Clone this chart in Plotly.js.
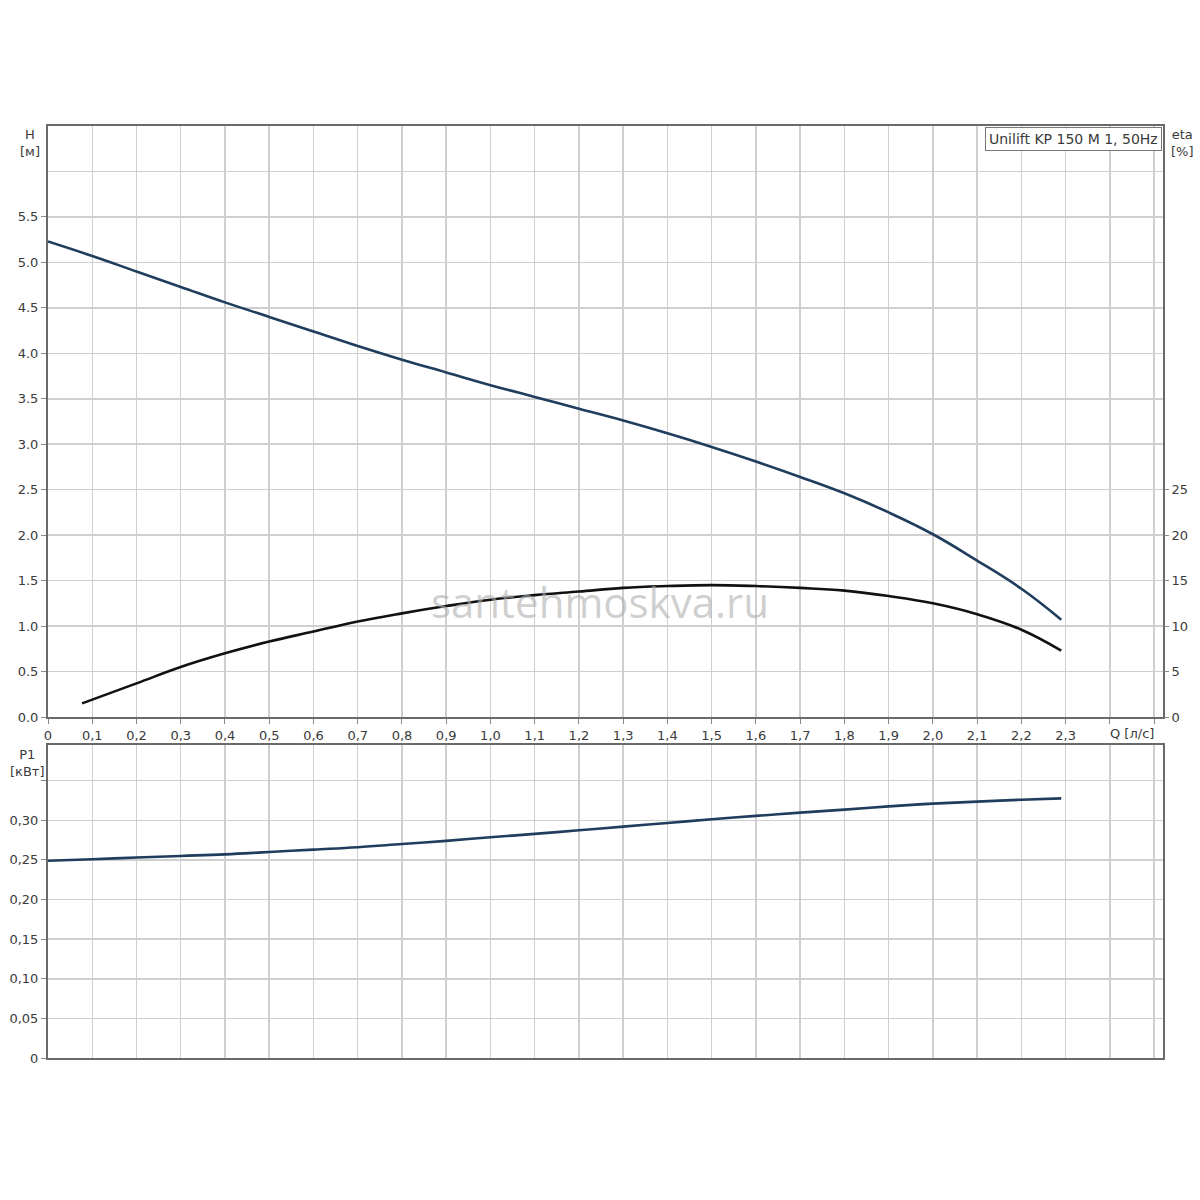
<!DOCTYPE html>
<html>
<head>
<meta charset="utf-8">
<script src="https://cdn.plot.ly/plotly-3.0.1.min.js"></script>
<style>html,body{margin:0;padding:0;background:#fff;}#chart{width:1200px;height:1200px;}</style>
</head>
<body>
<div id="chart"></div>
<script>
// Flow Q [л/с]
var qH = [0,0.1,0.2,0.3,0.4,0.5,0.6,0.7,0.8,0.9,1.0,1.1,1.2,1.3,1.4,1.5,1.6,1.7,1.8,1.9,2.0,2.1,2.2,2.29];
var headH = [5.23,5.07,4.90,4.73,4.56,4.40,4.24,4.08,3.93,3.79,3.65,3.52,3.39,3.26,3.12,2.97,2.81,2.64,2.46,2.25,2.01,1.72,1.41,1.07];
var qEta = [0.077,0.2,0.3,0.4,0.5,0.6,0.7,0.8,0.9,1.0,1.1,1.2,1.3,1.4,1.5,1.6,1.7,1.8,1.9,2.0,2.1,2.2,2.29];
var etaVals = [1.5,3.7,5.5,7.0,8.3,9.4,10.5,11.4,12.2,12.9,13.4,13.8,14.2,14.4,14.5,14.4,14.2,13.9,13.3,12.5,11.3,9.6,7.3];
var qP = [0,0.1,0.2,0.3,0.4,0.5,0.6,0.7,0.8,0.9,1.0,1.1,1.2,1.3,1.4,1.5,1.6,1.7,1.8,1.9,2.0,2.1,2.2,2.29];
var p1Vals = [0.249,0.2508,0.253,0.255,0.257,0.260,0.263,0.266,0.270,0.274,0.2786,0.2828,0.2874,0.292,0.2966,0.3013,0.3055,0.3097,0.3134,0.3176,0.321,0.3235,0.326,0.3277];

var xTickVals = [0,0.1,0.2,0.3,0.4,0.5,0.6,0.7,0.8,0.9,1.0,1.1,1.2,1.3,1.4,1.5,1.6,1.7,1.8,1.9,2.0,2.1,2.2,2.3,2.4,2.5];
var xTickText = ["0","0,1","0,2","0,3","0,4","0,5","0,6","0,7","0,8","0,9","1,0","1,1","1,2","1,3","1,4","1,5","1,6","1,7","1,8","1,9","2,0","2,1","2,2","2,3","",""];
var hTickVals = [0,0.5,1,1.5,2,2.5,3,3.5,4,4.5,5,5.5];
var hTickText = ["0.0","0.5","1.0","1.5","2.0","2.5","3.0","3.5","4.0","4.5","5.0","5.5"];
var hGridVals = [6];
var etaTickVals = [0,5,10,15,20,25];
var etaTickText = ["0","5","10","15","20","25"];
var pTickVals = [0,0.05,0.10,0.15,0.20,0.25,0.30,0.35];
var pTickText = ["0","0,05","0,10","0,15","0,20","0,25","0,30",""];

var fam = "DejaVu Sans, Verdana, sans-serif";
var fnt = {family: fam, size: 13, color: "#3a3a3a"};
var gridC = "#cfcfcf";
var lineC = "#6a6a6a";

var traces = [
  {x: qH, y: headH, xaxis: "x", yaxis: "y", mode: "lines", line: {color: "#1f3d5c", width: 2.6, shape: "spline", smoothing: 1.2}, name: "H"},
  {x: qEta, y: etaVals, xaxis: "x", yaxis: "y3", mode: "lines", line: {color: "#111", width: 2.6, shape: "spline", smoothing: 1.2}, name: "eta"},
  {x: qP, y: p1Vals, xaxis: "x2", yaxis: "y2", mode: "lines", line: {color: "#1f3d5c", width: 2.6, shape: "spline", smoothing: 1.2}, name: "P1"}
];

var L = 48/1200, R = 1163/1200;
var layout = {
  width: 1200, height: 1200,
  margin: {l: 0, r: 0, t: 0, b: 0},
  paper_bgcolor: "#fff", plot_bgcolor: "#fff",
  showlegend: false,
  font: fnt,
  xaxis: {domain: [L, R], anchor: "y", range: [0, 2.52], tickvals: xTickVals, ticktext: xTickText,
    showgrid: true, gridcolor: gridC, gridwidth: 1.5, zeroline: false,
    showline: true, linecolor: lineC, linewidth: 2, mirror: true,
    ticks: "outside", ticklen: 5, tickcolor: "#888", tickfont: fnt},
  yaxis: {domain: [1-717/1200, 1-126/1200], anchor: "x", range: [0, 6.5], tickvals: hTickVals, ticktext: hTickText,
    showgrid: true, gridcolor: gridC, gridwidth: 1.5, zeroline: false,
    minor: {tickvals: hGridVals, showgrid: true, gridcolor: gridC, gridwidth: 1.5, ticks: ""},
    showline: true, linecolor: lineC, linewidth: 2, mirror: true,
    ticks: "outside", ticklen: 5, tickcolor: "#888", tickfont: fnt},
  yaxis3: {overlaying: "y", side: "right", anchor: "x", range: [0, 65], tickvals: etaTickVals, ticktext: etaTickText,
    showgrid: false, zeroline: false, showline: false,
    ticks: "outside", ticklen: 5, tickcolor: "#888", tickfont: fnt},
  xaxis2: {domain: [L, R], anchor: "y2", range: [0, 2.52], tickvals: xTickVals, showticklabels: false,
    showgrid: true, gridcolor: gridC, gridwidth: 1.5, zeroline: false,
    showline: true, linecolor: lineC, linewidth: 2, mirror: true, ticks: ""},
  yaxis2: {domain: [1-1058/1200, 1-745/1200], anchor: "x2", range: [0, 0.395], tickvals: pTickVals, ticktext: pTickText,
    showgrid: true, gridcolor: gridC, gridwidth: 1.5, zeroline: false,
    showline: true, linecolor: lineC, linewidth: 2, mirror: true,
    ticks: "outside", ticklen: 5, tickcolor: "#888", tickfont: fnt},
  annotations: [
    {text: "H<br>[м]", xref: "paper", yref: "paper", x: 30/1200, y: 1-125/1200, xanchor: "center", yanchor: "top", showarrow: false, font: fnt, align: "center"},
    {text: "eta<br>[%]", xref: "paper", yref: "paper", x: 1182/1200, y: 1-125/1200, xanchor: "center", yanchor: "top", showarrow: false, font: fnt, align: "center"},
    {text: "P1<br>[кВт]", xref: "paper", yref: "paper", x: 27/1200, y: 1-745/1200, xanchor: "center", yanchor: "top", showarrow: false, font: fnt, align: "center"},
    {text: "Q [л/с]", xref: "x", yref: "paper", x: 2.45, y: 1-724/1200, xanchor: "center", yanchor: "top", showarrow: false, font: fnt},
    {text: "Unilift KP 150 M 1, 50Hz", xref: "paper", yref: "paper", x: 1162/1200, y: 1-127/1200, xanchor: "right", yanchor: "top", showarrow: false,
      font: {family: fam, size: 14, color: "#3a3a3a"}, bgcolor: "#fff", bordercolor: "#777", borderwidth: 1, borderpad: 3},
    {text: "santehmoskva.ru", xref: "paper", yref: "paper", x: 600/1200, y: 1-601/1200, xanchor: "center", yanchor: "middle", showarrow: false,
      font: {family: "Open Sans, DejaVu Sans, sans-serif", size: 42, color: "rgba(175,175,175,0.6)"}}
  ]
};

Plotly.newPlot("chart", traces, layout, {displayModeBar: false, staticPlot: true});
</script>
</body>
</html>
